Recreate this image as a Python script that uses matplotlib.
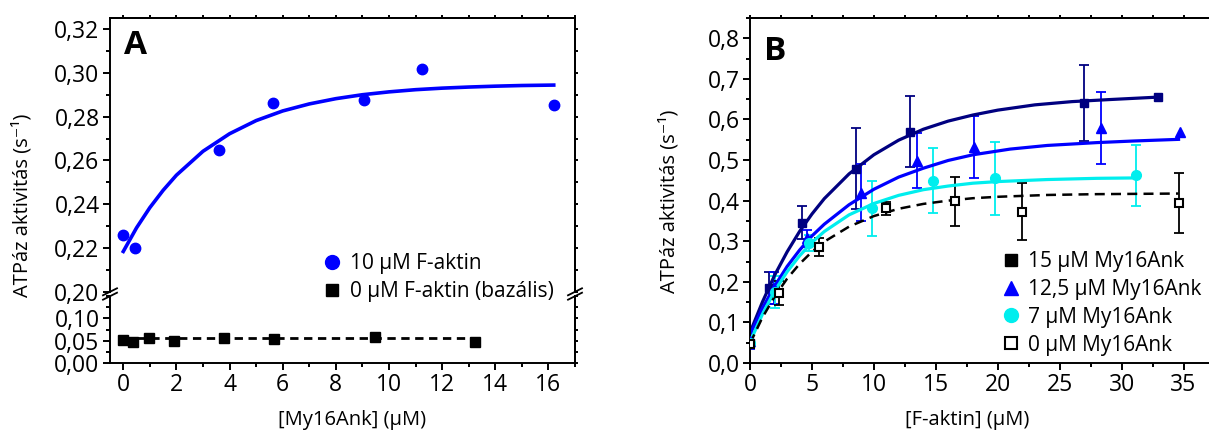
import numpy as np
import matplotlib.pyplot as plt
from matplotlib.ticker import MultipleLocator, FuncFormatter, NullFormatter
from matplotlib.lines import Line2D

plt.rcParams['font.family'] = ['Open Sans', 'DejaVu Sans']

# ---------------- panel A ----------------
a_x_factin = [0, 0.45, 3.6, 5.65, 9.05, 11.25, 16.2]
a_y_factin = [0.226, 0.2201, 0.2649, 0.2862, 0.2874, 0.3016, 0.2855]
a_fit_x = [0, 0.5, 1, 1.5, 2, 3, 4, 5, 6, 7, 8, 9, 10, 11, 12, 13, 14, 15, 16.2]
a_fit_y = [0.2185, 0.2293, 0.2385, 0.2464, 0.2533, 0.2642, 0.2722, 0.2782, 0.2826,
           0.2858, 0.2882, 0.2900, 0.2913, 0.2923, 0.2930, 0.2935, 0.2939, 0.2942, 0.2944]
a_x_basal = [0, 0.38, 0.97, 1.91, 3.79, 5.67, 9.46, 13.23]
a_y_basal = [0.0511, 0.0481, 0.0564, 0.0496, 0.0564, 0.0541, 0.0586, 0.0466]
a_basal_line_x = [0, 13.2]
a_basal_line_y = [0.055, 0.055]

# ---------------- panel B ----------------
b15_x = [0, 1.57, 4.19, 8.53, 12.9, 27.0, 32.9]
b15_y = [0.05, 0.185, 0.346, 0.479, 0.570, 0.640, 0.656]
b15_err = [0, 0.04, 0.041, 0.10, 0.087, 0.093, 0]
b15_fit_x = [0, 1, 2, 3, 4, 5, 6, 8, 10, 12, 14, 16, 18, 20, 23, 26, 29, 32.9]
b15_fit_y = [0.075, 0.150, 0.217, 0.274, 0.324, 0.367, 0.405, 0.466, 0.513, 0.549,
             0.576, 0.596, 0.611, 0.623, 0.636, 0.644, 0.649, 0.655]

b125_x = [0, 1.9, 4.6, 8.97, 13.5, 18.06, 28.33, 34.68]
b125_y = [0.055, 0.185, 0.307, 0.420, 0.498, 0.533, 0.579, 0.568]
b125_err = [0.02, 0.04, 0.02, 0.07, 0.068, 0.076, 0.089, 0]
b125_fit_x = [0, 1, 2, 3, 4, 5, 6, 8, 10, 12, 14, 16, 18, 21, 24, 28, 31, 34.6]
b125_fit_y = [0.07, 0.135, 0.19, 0.238, 0.278, 0.313, 0.342, 0.39, 0.428, 0.458,
              0.48, 0.499, 0.513, 0.527, 0.536, 0.543, 0.547, 0.551]

b7_x = [0, 2.0, 4.73, 9.87, 14.81, 19.79, 31.17]
b7_y = [0.05, 0.175, 0.295, 0.381, 0.449, 0.455, 0.462]
b7_err = [0, 0.04, 0.02, 0.068, 0.08, 0.09, 0.075]
b7_fit_x = [0, 1, 2, 3, 4, 5, 6, 8, 10, 12, 14, 16, 18, 20, 24, 28, 31.2]
b7_fit_y = [0.052, 0.120, 0.178, 0.225, 0.264, 0.297, 0.324, 0.365, 0.393, 0.413,
            0.427, 0.436, 0.443, 0.447, 0.452, 0.455, 0.456]

b0_x = [0, 2.38, 5.54, 10.95, 16.55, 21.98, 34.6]
b0_y = [0.048, 0.173, 0.286, 0.381, 0.398, 0.373, 0.394]
b0_err = [0, 0.03, 0.022, 0.016, 0.061, 0.071, 0.073]
b0_fit_x = [0, 1, 2, 3, 4, 5, 6, 8, 10, 12, 14, 16, 18, 20, 24, 28, 34.6]
b0_fit_y = [0.048, 0.112, 0.164, 0.208, 0.244, 0.274, 0.299, 0.336, 0.362, 0.380,
            0.392, 0.400, 0.406, 0.4095, 0.414, 0.416, 0.4175]

NAVY = '#000080'
BLUE = '#0000ff'
CYAN = '#00eeee'

W, H = 1209, 432
fig = plt.figure(figsize=(W / 100, H / 100), dpi=100)


def box(l, t, r, b):
    return [l / W, 1 - b / H, (r - l) / W, (b - t) / H]


def comma(fmt):
    return FuncFormatter(lambda v, p: fmt.format(v).replace('.', ','))


TICK_FS = 16.5
LABEL_FS = 14.5
LEG_FS = 15
LW = 1.4


def style(ax):
    for s in ax.spines.values():
        s.set_linewidth(LW)
    ax.tick_params(which='major', direction='out', length=5, width=LW, labelsize=TICK_FS, pad=2.5)
    ax.tick_params(which='minor', direction='out', length=3, width=LW)


def mirror(ax, side, step):
    # short outward ticks, no labels, on the opposite spine
    if side == 'top':
        sec = ax.secondary_xaxis('top')
    else:
        sec = ax.secondary_yaxis('right')
    sec.spines[side].set_linewidth(LW)
    axis = sec.xaxis if side == 'top' else sec.yaxis
    axis.set_major_locator(MultipleLocator(step))
    axis.set_major_formatter(NullFormatter())
    sec.tick_params(direction='out', length=2.5, width=LW)
    return sec


ax_up = fig.add_axes(box(110, 18, 575, 292))
ax_lo = fig.add_axes(box(110, 296, 575, 363))
ax_b = fig.add_axes(box(750, 18, 1212, 363))

for ax in (ax_up, ax_lo, ax_b):
    style(ax)

# A upper
ax_up.plot(a_fit_x, a_fit_y, color=BLUE, lw=2.6, zorder=2)
ax_up.plot(a_x_factin, a_y_factin, 'o', color=BLUE, ms=7.5, zorder=3)
ax_up.set_xlim(-0.5, 17)
ax_up.set_ylim(0.20, 0.325)
ax_up.spines['bottom'].set_visible(False)
ax_up.tick_params(axis='x', which='both', bottom=False, labelbottom=False)
ax_up.yaxis.set_major_locator(MultipleLocator(0.02))
ax_up.yaxis.set_minor_locator(MultipleLocator(0.01))
ax_up.yaxis.set_major_formatter(comma('{:.2f}'))
mirror(ax_up, 'top', 1)
mirror(ax_up, 'right', 0.01)

# A lower
ax_lo.plot(a_basal_line_x, a_basal_line_y, '--', color='black', lw=2, dashes=(3, 2), zorder=2)
ax_lo.plot(a_x_basal, a_y_basal, 's', color='black', ms=6.5, zorder=3)
ax_lo.set_xlim(-0.5, 17)
ax_lo.set_ylim(0, 0.15)
ax_lo.spines['top'].set_visible(False)
ax_lo.xaxis.set_major_locator(MultipleLocator(2))
ax_lo.xaxis.set_minor_locator(MultipleLocator(1))
ax_lo.set_yticks([0, 0.05, 0.10])
ax_lo.yaxis.set_minor_locator(MultipleLocator(0.025))
ax_lo.yaxis.set_major_formatter(comma('{:.2f}'))
mirror(ax_lo, 'right', 0.025)

# break marks
for xp in (110, 575):
    for off in (-2.2, 2.2):
        yc = 294 + off
        fig.add_artist(Line2D([(xp - 7) / W, (xp + 7) / W],
                              [1 - (yc + 3.5) / H, 1 - (yc - 3.5) / H],
                              color='black', lw=1.3, transform=fig.transFigure))

leg_a = [Line2D([], [], marker='o', ls='none', color=BLUE, ms=10),
         Line2D([], [], marker='s', ls='none', color='black', ms=9)]
fig.legend(leg_a, ['10 μM F-aktin', '0 μM F-aktin (bazális)'],
           loc='upper left', bbox_to_anchor=(322 / W, 1 - 253 / H), frameon=False,
           fontsize=LEG_FS, handlelength=1.0, handletextpad=0.35, labelspacing=0.33,
           borderpad=0, borderaxespad=0)

fig.text(135 / W, 1 - 46 / H, 'A', fontsize=24, fontweight='bold', ha='center', va='center')
fig.text(22 / W, 1 - 205 / H, 'ATPáz aktivitás (s⁻¹)', rotation=90, fontsize=LABEL_FS,
         ha='center', va='center')
fig.text(352 / W, 1 - 420 / H, '[My16Ank] (μM)', fontsize=LABEL_FS, ha='center', va='center')

# B
series = [
    (b15_x, b15_y, b15_err, b15_fit_x, b15_fit_y, NAVY, 's', 6, '-'),
    (b125_x, b125_y, b125_err, b125_fit_x, b125_fit_y, BLUE, '^', 7.5, '-'),
    (b7_x, b7_y, b7_err, b7_fit_x, b7_fit_y, CYAN, 'o', 7, '-'),
    (b0_x, b0_y, b0_err, b0_fit_x, b0_fit_y, 'black', 's', 5.5, '--'),
]
for xs, ys, es, fx, fy, c, m, ms, ls in series:
    xs, ys, es = np.array(xs), np.array(ys), np.array(es)
    k = es > 0
    ax_b.errorbar(xs[k], ys[k], yerr=es[k], fmt='none', ecolor=c, elinewidth=1.3,
                  capsize=3.5, capthick=1.3, zorder=1)
    if ls == '--':
        ax_b.plot(fx, fy, color=c, lw=1.8, dashes=(4, 2.5), zorder=2)
        ax_b.plot(xs, ys, m, mfc='white', mec=c, mew=1.5, ms=ms, zorder=3)
    else:
        ax_b.plot(fx, fy, color=c, lw=2.3, zorder=2)
        ax_b.plot(xs, ys, m, color=c, ms=ms, zorder=3)

ax_b.set_xlim(0, 37.3)
ax_b.set_ylim(0, 0.85)
ax_b.xaxis.set_major_locator(MultipleLocator(5))
ax_b.xaxis.set_minor_locator(MultipleLocator(2.5))
ax_b.yaxis.set_major_locator(MultipleLocator(0.1))
ax_b.yaxis.set_minor_locator(MultipleLocator(0.05))
ax_b.yaxis.set_major_formatter(comma('{:.1f}'))
mirror(ax_b, 'top', 2.5)

leg_b = [Line2D([], [], marker='s', ls='none', color='black', ms=9),
         Line2D([], [], marker='^', ls='none', color=BLUE, ms=10),
         Line2D([], [], marker='o', ls='none', color=CYAN, ms=10),
         Line2D([], [], marker='s', ls='none', mfc='white', mec='black', mew=1.5, ms=8)]
fig.legend(leg_b, ['15 μM My16Ank', '12,5 μM My16Ank', '7 μM My16Ank', '0 μM My16Ank'],
           loc='upper left', bbox_to_anchor=(1001 / W, 1 - 251 / H), frameon=False,
           fontsize=LEG_FS, handlelength=1.0, handletextpad=0.3, labelspacing=0.33,
           borderpad=0, borderaxespad=0)

fig.text(775 / W, 1 - 51 / H, 'B', fontsize=24, fontweight='bold', ha='center', va='center')
fig.text(669 / W, 1 - 201 / H, 'ATPáz aktivitás (s⁻¹)', rotation=90, fontsize=LABEL_FS,
         ha='center', va='center')
fig.text(967 / W, 1 - 420 / H, '[F-aktin] (μM)', fontsize=LABEL_FS, ha='center', va='center')

fig.savefig('out.png', dpi=100)
